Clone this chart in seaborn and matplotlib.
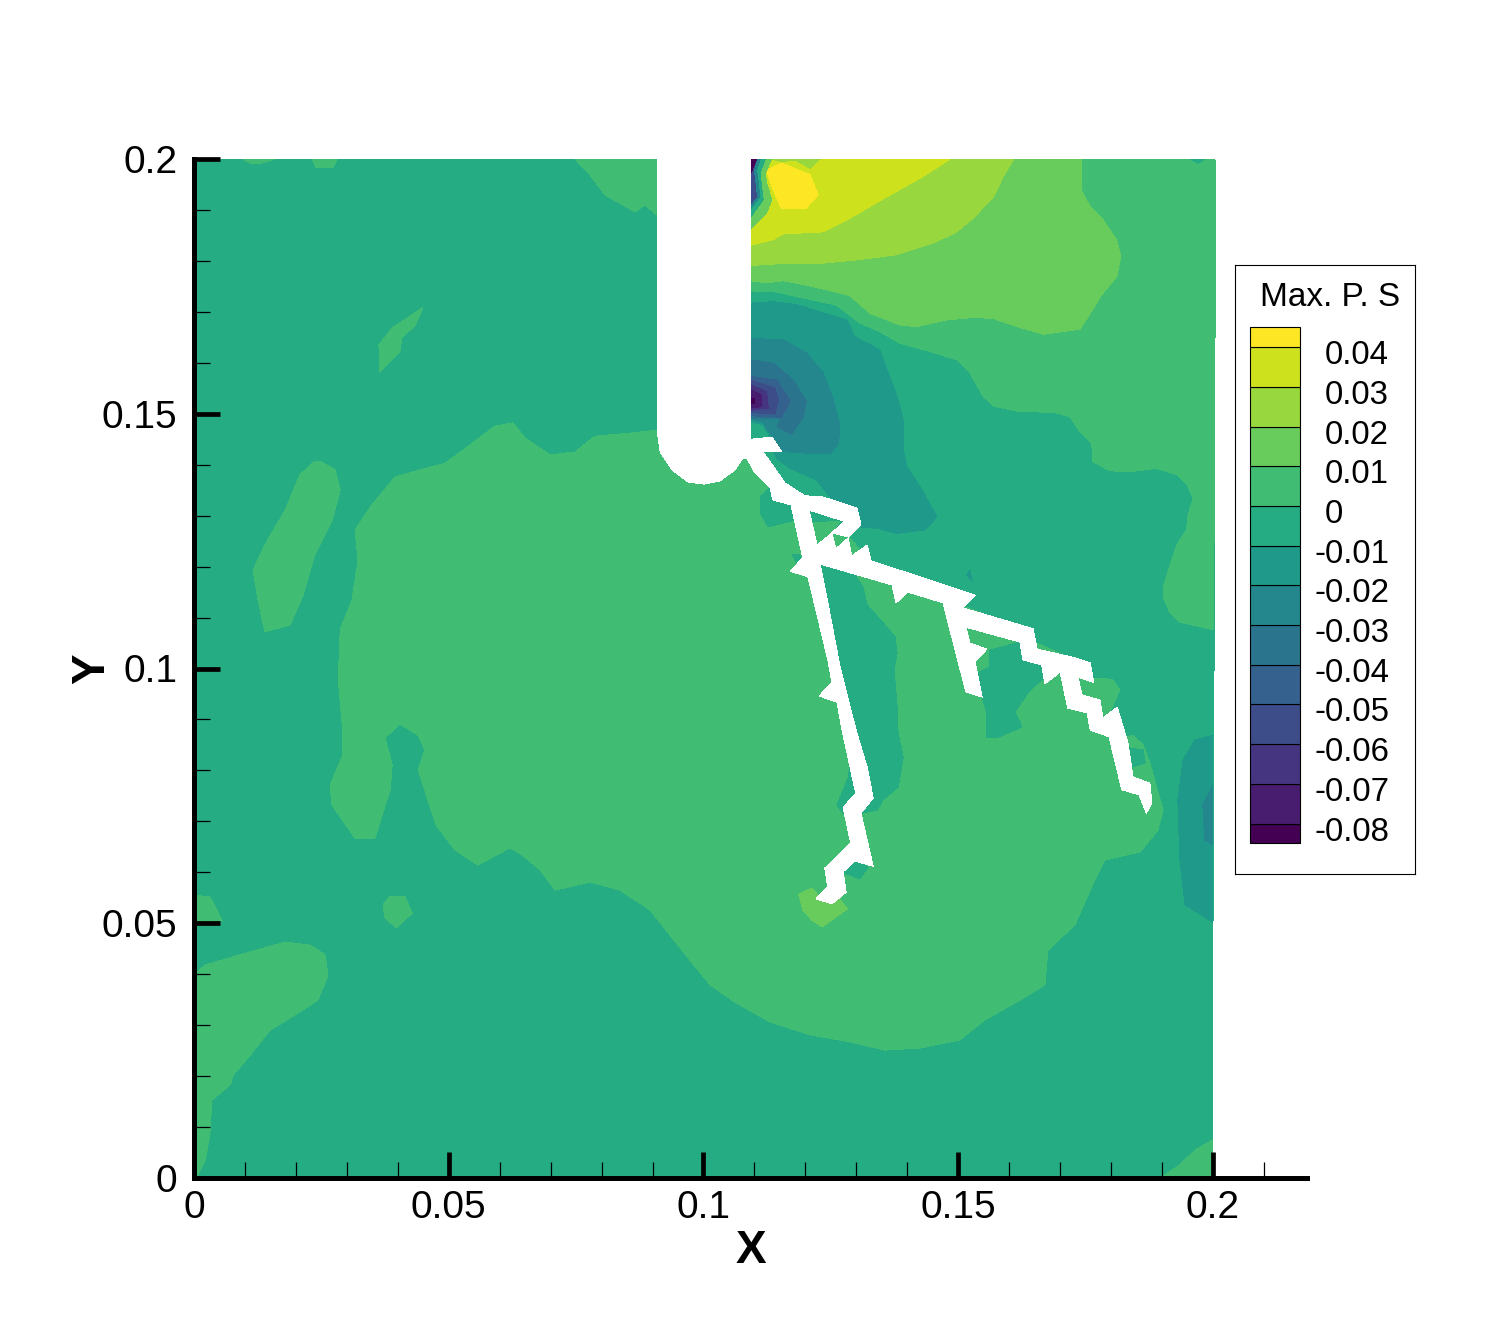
import matplotlib
matplotlib.use("Agg")
import matplotlib.pyplot as plt
import seaborn as sns

sns.set_style("ticks")
plt.rcParams['font.family'] = ['Liberation Sans', 'DejaVu Sans']
plt.rcParams['text.color'] = 'black'
plt.rcParams['axes.labelcolor'] = 'black'
plt.rcParams['axes.edgecolor'] = 'black'
plt.rcParams['xtick.color'] = 'black'
plt.rcParams['ytick.color'] = 'black'
plt.rcParams['xtick.labelcolor'] = 'black'
plt.rcParams['ytick.labelcolor'] = 'black'

# ---- data: contour band regions, (x, y) in thousandths of the axis unit
domain = [(0,0),(200,0),(200,50),(200.2,100),(200.2,165),(200.4,165),(200.4,199.8),(182.7,200),(0,200)]
main_pos = [(90.9,146.8),(85.6,146.2),(78.7,145.6),(74.8,142.5),(69.9,141.9),(65.0,145.2),(62.6,148.2),(59.1,147.6),
 (54.2,143.9),(49.3,140.3),(44.4,139.0),(39.5,137.6),(34.9,132.1),(31.6,127.2),(32.2,121.3),(31.0,113.4),(28.7,107.6),
 (28.3,97.7),(29.2,87.9),(29.2,83.0),(26.7,77.1),(27.1,73.2),(31.6,66.7),(35.5,66.7),(38.5,76.2),(38.9,81.1),(37.5,86.4),
 (40.4,89.1),(44.0,86.9),(45.3,84.0),(44.0,80.1),(45.9,74.2),(47.5,69.3),(51.2,64.4),(55.7,61.4),(62.0,64.8),(64.4,63.4),
 (67.9,60.5),(70.9,56.5),(77.7,58.1),(83.6,56.5),(89.5,52.6),(93.4,47.7),(97.3,42.8),(101.3,37.9),(106.2,34.5),(113.1,30.6),
 (120.9,28.1),(128.8,26.7),(135.6,25.1),(142.5,25.5),(150.3,27.1),(155.2,31.0),(162.1,34.9),(167.0,37.9),(167.6,44.7),
 (172.9,49.7),(176.8,58.5),(178.8,62.4),(185.7,64.0),(189.2,68.3),(190.2,72.2),(187.6,81.5),(186.3,85.0),(184.3,86.9),
 (183.1,86.6),(181.4,89.9),(179.4,90.5),(180.2,92.4),(181.7,95.8),(180.2,97.9),(175.9,98.1),(174.9,100.7),(164.1,105.6),
 (158.2,109.5),(146.4,114.0),(136.6,119.9),(132.7,120.9),(130.7,123.3),(128.8,125.6),(125.2,126.6),(126.8,128.9),(121.5,128.6),
 (118.9,132.1),(113.1,135.0),(108.1,141.9),(99.3,139.0)]
isle_left = [(24.7,140.7),(27.7,139.0),(28.7,135.0),(27.1,129.1),(23.7,122.3),(21.4,114.4),(18.8,108.5),(13.9,107.2),(12.6,113.4),
 (11.6,119.3),(13.9,124.2),(17.9,131.1),(20.8,138.0),(23.4,140.5)]
isle_sliver = [(44.9,170.8),(43.4,167.4),(40.8,164.9),(40.4,162.1),(36.5,158.2),(36.3,163.5),(38.9,166.8)]
isle_small = [(38.5,55.3),(41.4,55.2),(42.8,52.0),(39.8,49.1),(37.5,51.0),(37.1,53.6)]
isle_edge = [(0,55.5),(3.1,55.2),(5.5,50.6),(0,49.7)]
isle_bottom_left = [(0,39.8),(2.2,41.8),(9.0,43.8),(17.9,46.3),(22.8,45.7),(25.7,43.8),(26.3,39.8),(24.3,34.9),(19.8,32.0),(14.9,29.0),
 (11.0,24.1),(7.7,20.2),(7.1,18.3),(3.5,15.3),(3.1,8.4),(2.2,3.5),(0.4,0),(0,0)]
isle_top_mid = [(74.8,200),(77.7,196.9),(80.7,192.9),(86.6,189.6),(88.5,191.0),(90.9,189.0),(90.9,200)]
isle_top_a = [(9.6,200),(11.0,199.2),(13.3,199.2),(15.9,200)]
isle_top_b = [(23.2,200),(23.9,198.4),(27.3,198.4),(28.1,200)]
isle_corner = [(200,7.5),(196.5,5.5),(193.5,2.6),(189.6,0),(200,0)]
neg_a = [(113.1,135.6),(111.1,133.7),(111.1,130.5),(112.7,127.8),(118.0,129.1),(118.0,133.1)]
neg_b = [(117.4,122.3),(118.9,122.3),(119.5,120.3),(118.4,120.7)]
neg_c = [(122.9,120.3),(129.7,118.4),(131.3,116.0),(132.1,112.5),(136.0,108.1),(137.6,106.2),(138.0,103.0),(137.4,99.7),(138.0,92.4),
 (138.2,87.3),(139.2,82.6),(138.2,76.7),(135.2,74.2),(134.1,72.2),(131.1,71.6),(127.4,71.6),(126.2,73.2),(128.4,78.5),(128.8,82.0),(125.8,95.8)]
neg_d = [(127.4,59.9),(130.7,58.7),(132.3,61.0),(128.8,63.4)]
neg_e = [(156.2,103.6),(162.1,105.2),(162.7,101.7),(166.4,100.7),(167.0,98.3),(164.1,95.8),(161.1,91.5),(162.5,88.5),(157.6,86.4),
 (155.6,86.4),(155.6,91.3),(154.7,94.4),(153.7,99.1),(156.2,100.3)]
neg_f = [(183.7,84.4),(186.3,84.0),(186.7,81.5),(184.3,80.7)]
speck = [(152.3,119.3),(152.7,117.2),(151.7,118.2)]
tip_patch = [(118.7,55.7),(121.3,56.9),(122.9,55.0),(126.8,54.6),(128.2,52.8),(123.3,49.3),(121.3,50.6),(119.5,52.6)]
edge_7 = [(200,86.9),(196.5,86.0),(194.1,82.0),(193.1,74.2),(193.5,62.4),(194.5,53.6),(200,50.2)]
edge_6 = [(200,77.1),(198.0,73.2),(198.4,66.3),(200,65.4)]
upper_9 = [(109.3,174.1),(113.7,174.0),(118.3,173.0),(126.1,171.3),(130.7,167.8),(134.6,166.1),(138.6,163.8),(144.5,162.2),(149.7,160.6),
 (152.3,158.0),(154.9,153.4),(156.9,151.5),(162.1,150.4),(168.7,150.3),(171.9,149.4),(173.9,146.5),(176.2,144.2),(176.4,140.6),(179.8,138.8),
 (183.7,138.6),(188.9,139.3),(192.9,138.0),(194.8,136.3),(196.1,133.4),(195.1,130.1),(194.8,127.2),(192.9,124.3),(190.2,116.0),(190.2,114.0),
 (191.6,110.9),(193.5,109.1),(200.1,107.6),(200.2,125),(200.2,165),(200.4,165),(200.4,199.8),(198.7,199.9),(197.1,198.8),(195.1,200),(109.3,200)]
upper_10 = [(109.3,176.1),(112.4,175.7),(115.7,176.1),(120.9,175.1),(128.7,173.2),(132.7,169.7),(138.6,167.4),(141.8,167.1),(147.7,168.4),
 (153.0,168.9),(156.9,168.7),(161.5,167.1),(166.7,165.6),(173.9,166.6),(175.9,169.7),(178.1,173.3),(181.1,176.9),(181.9,180.8),(181.1,184.1),
 (178.5,188.0),(175.9,190.6),(174.1,193.9),(174.1,200),(109.3,200)]
upper_11 = [(109.3,179.1),(115.7,179.5),(122.9,179.5),(130.1,180.2),(137.9,181.2),(145.8,183.8),(149.7,185.7),(153.0,188.4),(156.9,192.6),
 (158.8,196.5),(160.9,200),(109.3,200)]
upper_12 = [(109.3,183.1),(113.7,184.2),(115.7,185.3),(123.5,185.7),(128.1,188.0),(136.0,192.6),(142.5,196.2),(148.4,200),(109.3,200)]
upper_13 = [(112.4,197.8),(115.3,199.2),(120.9,196.9),(122.5,193.0),(120.0,190.2),(115.3,190.3),(113.7,193.9)]
top_11 = [(113.4,200),(115.3,199.5),(118.0,199.8),(120.9,198.2),(122.9,200)]
strip_10 = [(109.3,200),(113.4,200),(112.1,197.2),(112.4,195.2),(113.4,192.0),(112.3,189.3),(109.3,186.4)]
strip_8 = [(109.3,200),(112.1,200),(111.1,197.2),(111.4,194.6),(111.7,192.0),(109.3,188.7)]
strip_6 = [(109.3,200),(111.1,200),(110.4,197.8),(110.8,195.2),(111.0,192.6),(109.3,190.3)]
strip_3 = [(109.3,200),(110.4,200),(109.8,197.8),(110.1,195.2),(110.4,192.6),(109.3,191.3)]
strip_0 = [(109.3,200),(110.4,200),(109.3,197.2)]
well_7 = [(109.3,171.7),(113.7,172.0),(118.3,171.4),(128.1,168.4),(129.7,165.1),(134.6,162.5),(136.0,158.6),(137.9,153.7),(139.2,148.8),
 (139.2,142.9),(139.9,139.6),(142.5,135.7),(145.8,129.8),(143.5,127.2),(137.9,126.5),(134.3,127.5),(130.7,127.8),(124.8,133.7),(122.2,137.0),
 (117.0,139.3),(114.4,141.2),(113.7,142.6),(113.0,145.5),(111.7,147.8),(109.3,148.4)]
well_6 = [(109.3,164.8),(115.7,164.5),(120.2,161.9),(123.5,158.0),(125.5,152.7),(126.8,147.5),(126.5,144.2),(124.8,142.1),(120.9,142.2),
 (115.7,142.6),(113.7,144.9),(113.1,146.2),(111.7,148.3),(109.3,148.9)]
well_5 = [(109.3,160.6),(113.7,159.9),(117.6,156.6),(120.2,152.4),(119.6,149.4),(117.3,146.0),(114.4,147.5),(115.3,149.1),(109.3,149.1)]
well_4 = [(109.3,157.3),(114.4,156.6),(117.0,152.4),(115.3,149.3),(109.3,149.6)]
well_3 = [(109.3,156.6),(114.0,155.0),(114.7,152.7),(114.0,150.0),(109.3,150.2)]
well_2 = [(109.3,155.7),(112.4,154.3),(112.7,151.1),(109.3,150.7)]
well_1 = [(109.3,154.7),(111.4,153.7),(111.4,151.4),(109.3,151.1)]
well_0 = [(109.3,153.0),(110.1,153.0),(110.1,152.0),(109.3,152.0)]
notch = [(90.9,200),(109.3,200),(109.3,145.0),(109.1,142.9),(108.1,141.9),(106.2,139.0),(103.2,136.8),(100.1,136.2),(97.0,136.6),
 (93.8,139.0),(91.5,142.5),(90.9,146.8)]
crack = [(109.3,145.0),(113.4,145.4),(115.4,142.5),(111.7,142.5),(116.0,136.4),(119.9,133.9),(123.3,133.7),(130.1,131.5),(130.9,128.2),
 (128.4,125.8),(125.2,126.6),(127.6,128.9),(120.7,131.1),(122.3,124.2),(125.2,126.6),(126.0,123.5),(128.4,125.6),(129.1,122.1),(132.1,124.2),
 (132.9,121.1),(143.1,117.8),(153.3,114.4),(150.9,111.9),(164.7,107.8),(165.5,103.8),(172.9,102.1),(175.9,101.1),(176.6,97.3),(173.5,98.3),
 (174.3,94.8),(177.8,93.8),(178.4,90.3),(181.2,92.4),(183.3,85.4),(184.3,78.7),(187.6,77.5),(188.0,73.6),(186.9,71.6),(185.5,75.2),(182.1,76.2),
 (179.6,86.6),(175.9,87.9),(175.3,91.3),(171.5,92.2),(170.0,99.3),(167.0,97.0),(166.4,100.7),(162.7,101.7),(162.1,105.2),(151.5,108.1),
 (152.3,105.0),(155.6,103.8),(153.3,101.3),(154.7,94.4),(151.5,95.4),(147.0,112.9),(140.1,115.0),(137.8,112.9),(137.0,116.4),(122.9,120.5),
 (124.2,114.0),(126.8,100.3),(130.1,87.3),(132.1,80.7),(133.3,74.6),(130.9,71.6),(133.3,61.2),(129.7,62.2),(127.4,60.1),(128.0,56.1),(125.2,53.8),
 (122.1,54.8),(124.4,57.1),(123.8,60.8),(128.9,65.7),(127.4,72.8),(129.9,75.4),(129.1,79.1),(127.2,87.9),(126.2,93.4),(122.7,94.6),(125.2,97.3),
 (124.4,101.7),(120.5,118.0),(117.0,119.1),(119.5,121.7),(117.4,131.1),(117.2,132.1),(113.6,133.1),(113.1,135.4),(110.1,138.4),(108.5,141.3),(107.8,141.3)]

levels = [-0.085,-0.08,-0.07,-0.06,-0.05,-0.04,-0.03,-0.02,-0.01,0,0.01,0.02,0.03,0.04,0.045]
level_labels = ['-0.08','-0.07','-0.06','-0.05','-0.04','-0.03','-0.02','-0.01','0','0.01','0.02','0.03','0.04']
level_values = [-0.08,-0.07,-0.06,-0.05,-0.04,-0.03,-0.02,-0.01,0,0.01,0.02,0.03,0.04]
x_ticks = [0,0.05,0.1,0.15,0.2]
x_tick_labels = ['0','0.05','0.1','0.15','0.2']
y_ticks = [0,0.05,0.1,0.15,0.2]
y_tick_labels = ['0','0.05','0.1','0.15','0.2']
x_minor = [0.01,0.02,0.03,0.04,0.06,0.07,0.08,0.09,0.11,0.12,0.13,0.14,0.16,0.17,0.18,0.19,0.21]
y_minor = [0.01,0.02,0.03,0.04,0.06,0.07,0.08,0.09,0.11,0.12,0.13,0.14,0.16,0.17,0.18,0.19]

# band index per region, painted in order
layers = [(8,domain),(9,main_pos),(9,isle_left),(9,isle_sliver),(9,isle_small),(9,isle_edge),(9,isle_bottom_left),
          (9,isle_top_mid),(9,isle_top_a),(9,isle_top_b),(9,isle_corner),
          (8,neg_a),(8,neg_b),(8,neg_c),(8,neg_d),(8,neg_e),(8,neg_f),(7,speck),(10,tip_patch),(7,edge_7),(6,edge_6),
          (9,upper_9),(10,upper_10),(11,upper_11),(12,upper_12),(13,upper_13),(11,top_11),
          (10,strip_10),(8,strip_8),(6,strip_6),(3,strip_3),(0,strip_0),
          (7,well_7),(6,well_6),(5,well_5),(4,well_4),(3,well_3),(2,well_2),(1,well_1),(0,well_0)]

cmap = sns.color_palette("viridis", as_cmap=True)
band_colors = [cmap(i / 13) for i in range(14)]

W, H = 1490, 1325
fig = plt.figure(figsize=(W / 100, H / 100), dpi=100)
ax = fig.add_axes([194 / W, 1 - 1178 / H, (1307 - 194) / W, (1178 - 159) / H])

def paint(axis, pts, color):
    xs = [p[0] / 1000 for p in pts]
    ys = [p[1] / 1000 for p in pts]
    poly = axis.fill(xs, ys, color=color, lw=0, antialiased=False, zorder=1)
    for p in poly:
        p.set_clip_on(False)

for idx, region in layers:
    paint(ax, region, band_colors[idx])
paint(ax, notch, 'white')
paint(ax, crack, 'white')

ax.set_xlim(0, 0.21845)
ax.set_ylim(0, 0.2)
ax.set_axisbelow(False)
sns.despine(ax=ax)
for s in ('left', 'bottom'):
    ax.spines[s].set_linewidth(3.6)
    ax.spines[s].set_zorder(5)
ax.set_xticks(x_ticks, x_tick_labels)
ax.set_yticks(y_ticks, y_tick_labels)
ax.set_xticks(x_minor, minor=True)
ax.set_yticks(y_minor, minor=True)
ax.tick_params(which='major', direction='in', length=18.5, width=3.4, labelsize=28, color='black')
ax.tick_params(which='minor', direction='in', length=11.5, width=0.9, color='black')
ax.tick_params(axis='x', which='major', pad=9)
ax.tick_params(axis='y', which='major', pad=12)
ax.set_xlabel('X', fontsize=33, fontweight='bold', labelpad=2)
ax.set_ylabel('Y', fontsize=33, fontweight='bold', labelpad=-9)

# contour legend
lax = fig.add_axes([1235 / W, 1 - 874 / H, 180 / W, 609 / H])
lax.set_xlim(0, 180)
lax.set_ylim(-0.0927, 0.0607)
lax.set_xticks([])
lax.set_yticks([])
for s in lax.spines.values():
    s.set_linewidth(0.8)
    s.set_color('black')
for i, c in enumerate(band_colors):
    lax.barh(levels[i], 50, height=levels[i + 1] - levels[i], left=15, align='edge',
             color=c, edgecolor='black', linewidth=0.8)
for val, lab in zip(level_values, level_labels):
    x = 80 if lab.startswith('-') else 90
    lax.text(x, val - 0.00125, lab, fontsize=23.8, ha='left', va='center_baseline', color='black')
lax.text(25, 0.0534, 'Max. P. S', fontsize=24, ha='left', va='center_baseline', color='black')

fig.savefig('out.png', dpi=100)
